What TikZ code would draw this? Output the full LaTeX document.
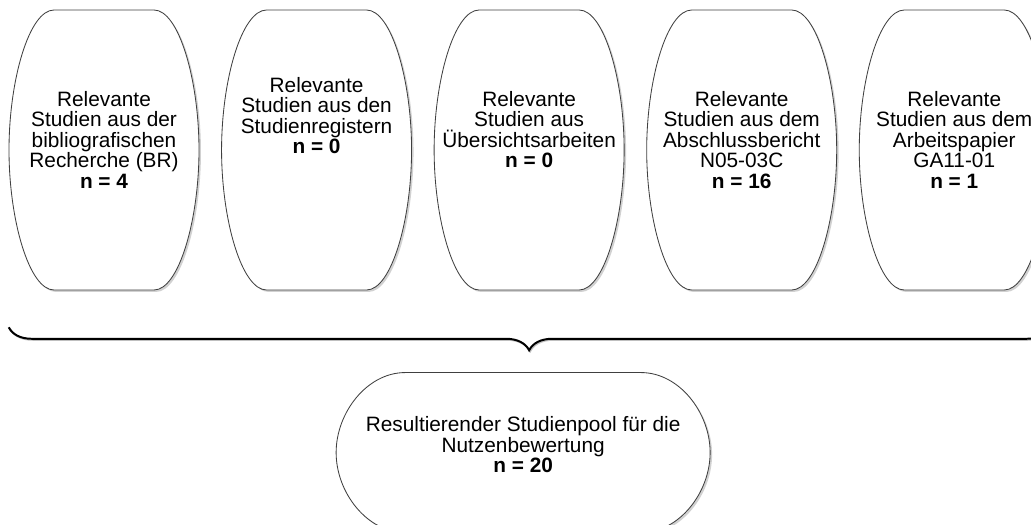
\documentclass[tikz,border=0pt]{standalone}
\usepackage{fontspec}
\setmainfont{Liberation Sans}
\usetikzlibrary{positioning, decorations.pathreplacing, backgrounds}

% Rand einer Tonne: Knoten, halbe Breite, halbe Hoehe, halbe Kante, Kontrollpunkt
\newcommand{\tonnenrand}[5]{%
	\draw[umriss, shift={(#1.center)}] (-#4,#3) -- (#4,#3)
		.. controls (#5,#3) and (#2,#3/2) .. (#2,0)
		.. controls (#2,-#3/2) and (#5,-#3) .. (#4,-#3) -- (-#4,-#3)
		.. controls (-#5,-#3) and (-#2,-#3/2) .. (-#2,0)
		.. controls (-#2,#3/2) and (-#5,#3) .. (-#4,#3) -- cycle;}

\begin{document}
\begin{tikzpicture}[
		tonne/.style={inner sep=0pt, minimum width=4.75cm, minimum height=7cm},
		pool/.style={inner sep=0pt, minimum width=9.35cm, minimum height=4cm},
		tonnentext/.style={anchor=north, yshift=-2.03cm, align=center, inner sep=0pt,
			font=\fontsize{14.8}{14.6}\selectfont},
		umriss/.style={draw=black!75, line width=0.6pt, fill=white,
			preaction={fill=black!18, transform canvas={shift={(1.4pt,-1.4pt)}}}},
		klammer/.style={decorate, decoration={brace, mirror, amplitude=0.575cm}, line width=1.4pt,
			preaction={draw=black!25, line width=1.4pt, transform canvas={shift={(0.7pt,-0.7pt)}}}},
		node distance=0.55cm
	]
		\useasboundingbox (0,0) rectangle (25.775,-13.1);
		\node[tonne, label={[tonnentext]north:{Relevante\\Studien aus der\\bibliografischen\\Recherche (BR)\\\textbf{n = 4}}}] (b1) at (2.6,-3.75) {};
		\node[tonne, right=of b1, label={[tonnentext, yshift=0.35cm]north:{Relevante\\Studien aus den\\Studienregistern\\\textbf{n = 0}}}] (b2) {};
		\node[tonne, right=of b2, label={[tonnentext]north:{Relevante\\Studien aus\\Übersichtsarbeiten\\\textbf{n = 0}}}] (b3) {};
		\node[tonne, right=of b3, label={[tonnentext]north:{Relevante\\Studien aus dem\\Abschlussbericht\\N05-03C\\\textbf{n = 16}}}] (b4) {};
		\node[tonne, right=of b4, label={[tonnentext]north:{Relevante\\Studien aus dem\\Arbeitspapier\\GA11-01\\\textbf{n = 1}}}] (b5) {};
		\coordinate[below=0.925cm of b1.south west] (klinks);
		\coordinate[below=0.925cm of b5.south east] (krechts);
		\draw[klammer] (klinks) -- coordinate (mitte) (krechts);
		\node[pool, below=1.125cm of mitte, xshift=-0.15cm, label={[tonnentext, yshift=0.93cm]north:{Resultierender Studienpool für die\\Nutzenbewertung\\\textbf{n = 20}}}] (pool) {};
		\begin{scope}[on background layer]
			\clip (0,0) rectangle (25.775,-13.1);
			\foreach \b in {b1,b2,b3,b4,b5}
				{\tonnenrand{\b}{2.375}{3.5}{1.25}{1.87}}
			\tonnenrand{pool}{4.675}{2}{2.95}{3.9}
		\end{scope}
	\end{tikzpicture}
\end{document}
